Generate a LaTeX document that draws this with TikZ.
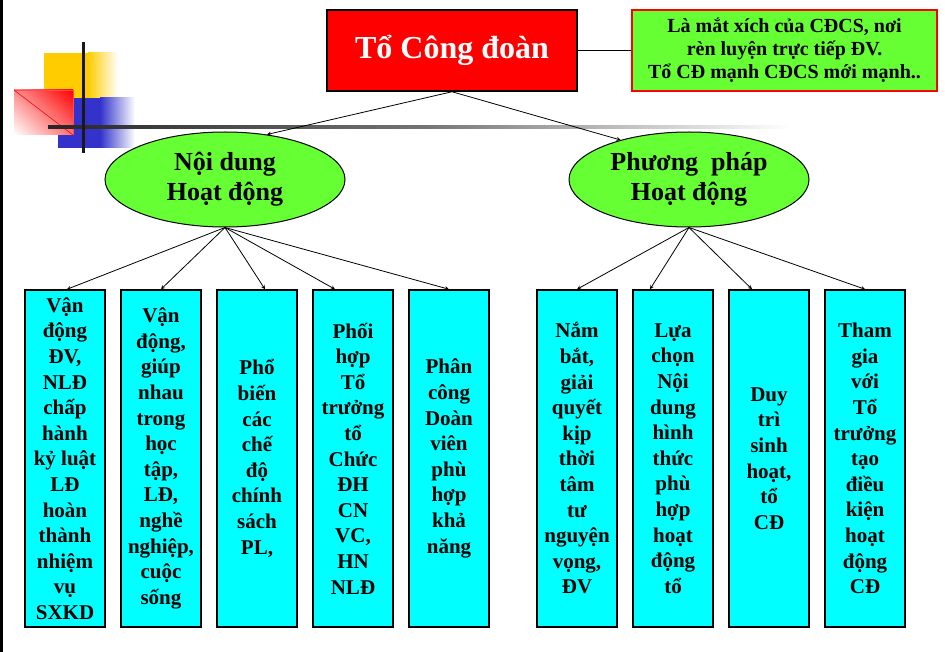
\documentclass[tikz,border=0pt]{standalone}
\usepackage{fontspec}
\setmainfont{Liberation Serif}
\usetikzlibrary{shapes.geometric}
\usetikzlibrary{shadings}
\definecolor{leafcyan}{HTML}{00FFFF}
\definecolor{bubblegreen}{HTML}{66FF33}
\definecolor{decoyellow}{HTML}{FFCC00}
\definecolor{decoblue}{HTML}{3333CC}
\tikzstyle{leaf}=[draw, line width=1.5pt, fill=leafcyan, inner sep=0, minimum width=80pt, minimum height=337pt,
                  align=center, font=\fontsize{21}{25.6}\selectfont\bfseries]
\tikzstyle{bubble}=[draw, ellipse, line width=1pt, fill=bubblegreen, inner sep=0, minimum width=240pt, minimum height=95pt,
                    align=center, font=\fontsize{26}{30}\selectfont\bfseries]
\tikzstyle{orgchart}=[x=1pt, y=-1pt, >=stealth,
                      % Default look for the connectors.
                      every path/.style={line width=0.8pt}]
\begin{document}
\begin{tikzpicture}[orgchart]
    \useasboundingbox (0, 0) rectangle (945, 652);
    % Left border and corner decoration.
    \draw[line width=3pt] (1.5, 0) -- (1.5, 652);
    \fill[decoyellow] (44, 53) rectangle (88, 98);
    \shade[left color=decoyellow, right color=white] (88, 53) rectangle (118, 98);
    \fill[decoblue] (58, 98) rectangle (100, 148);
    \shade[left color=decoblue, right color=white] (100, 98) rectangle (135, 148);
    \shade[upper right=red, lower left=white, upper left=red!45, lower right=red!55] (14, 90) rectangle (73, 135);
    \draw[red!70, line width=0.5pt] (14, 90) -- (73, 90) -- (73, 135);
    \draw[red, line width=0.6pt] (14, 90) -- (73, 135);
    \shade[left color=black!85, right color=white, middle color=black!55] (48, 125.5) rectangle (790, 128.5);
    \draw[line width=3pt, black!90] (83, 42) -- (83, 153);
    % Top of the chart.
    \node[draw, line width=1.5pt, fill=red, text=white, inner sep=0, minimum width=250pt, minimum height=81pt,
          font=\fontsize{32}{36}\selectfont\bfseries] (title) at (452, 50.5) {Tổ Công đoàn};
    \node[draw=red, line width=1.5pt, fill=bubblegreen, inner sep=0, minimum width=305pt, minimum height=81pt,
          align=center, font=\fontsize{20}{23}\selectfont\bfseries] (note) at (784.5, 50.5)
          {Là mắt xích của CĐCS, nơi\\rèn luyện trực tiếp ĐV.\\Tổ CĐ mạnh CĐCS mới mạnh..};
    \draw[line width=1.5pt] (title.east) -- (note.west);
    \node[bubble] (content) at (225, 179.5) {Nội dung\\Hoạt động};
    \node[bubble] (method) at (689, 179.5) {Phương~~pháp\\Hoạt động};
    \draw[->] (title.south) -- (content.47);
    \draw[->] (title.south) -- (method.150);
    % Boxes under "Noi dung".
    \node[leaf] (c1) at (65, 458.5) {Vận\\động\\ĐV,\\NLĐ\\chấp\\hành\\kỷ luật\\LĐ\\hoàn\\thành\\nhiệm\\vụ\\SXKD};
    \node[leaf] (c2) at (161, 458.5) {Vận\\động,\\giúp\\nhau\\trong\\học\\tập,\\LĐ,\\nghề\\nghiệp,\\cuộc\\sống};
    \node[leaf] (c3) at (257, 458.5) {Phổ\\biến\\các\\chế\\độ\\chính\\sách\\PL,};
    \node[leaf] (c4) at (353, 458.5) {Phối\\hợp\\Tổ\\trưởng\\tổ\\Chức\\ĐH\\CN\\VC,\\HN\\NLĐ};
    \node[leaf] (c5) at (449, 458.5) {Phân\\công\\Doàn\\viên\\phù\\hợp\\khả\\năng};
    % Boxes under "Phuong phap".
    \node[leaf] (m1) at (577, 458.5) {Nắm\\bắt,\\giải\\quyết\\kịp\\thời\\tâm\\tư\\nguyện\\vọng,\\ĐV};
    \node[leaf] (m2) at (673, 458.5) {Lựa\\chọn\\Nội\\dung\\hình\\thức\\phù\\hợp\\hoạt\\động\\tổ};
    \node[leaf] (m3) at (769, 458.5) {Duy\\trì\\sinh\\hoạt,\\tổ\\CĐ};
    \node[leaf] (m4) at (865, 458.5) {Tham\\gia\\với\\Tổ\\trưởng\\tạo\\điều\\kiện\\hoạt\\động\\CĐ};
    \draw[->] (content.south) -- ([xshift=2pt]c1.north);
    \draw[->] (content.south) -- (c2.north);
    \draw[->] (content.south) -- ([xshift=8pt]c3.north);
    \draw[->] (content.south) -- ([xshift=-18pt]c4.north);
    \draw[->] (content.south) -- (c5.north);
    \draw[->] (method.south) -- (m1.north);
    \draw[->] (method.south) -- ([xshift=-23pt]m2.north);
    \draw[->] (method.south) -- ([xshift=-17pt]m3.north);
    \draw[->] (method.south) -- (m4.north);
\end{tikzpicture}
\end{document}
